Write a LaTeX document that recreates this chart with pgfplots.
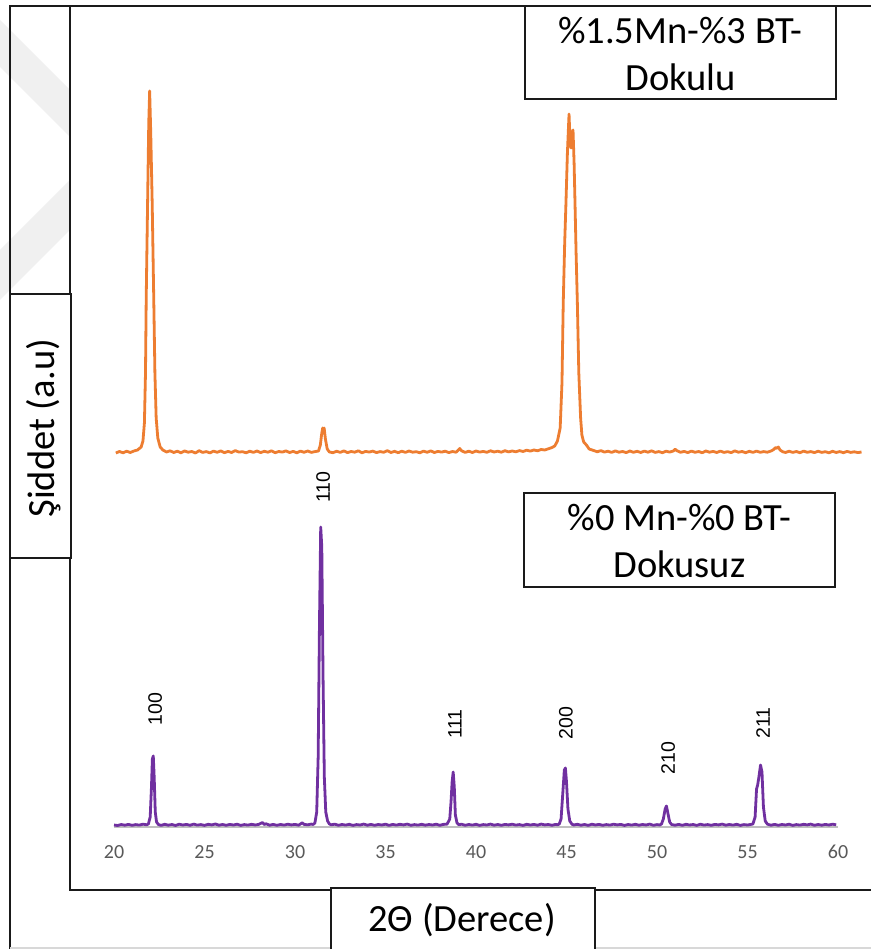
\documentclass[border=0pt]{standalone}
\usepackage{pgfplots}
\pgfplotsset{compat=1.18}
\usepackage{fontspec}
\setmainfont{Carlito}
\newfontfamily\arialf{Liberation Sans}
\definecolor{xorange}{HTML}{ED7D31}
\definecolor{xpurple}{HTML}{7030A0}
\definecolor{tickgray}{HTML}{595959}
\definecolor{axgray}{HTML}{BFBFBF}
\definecolor{frame}{HTML}{1A1A1A}
\definecolor{wm}{HTML}{F0F0F0}
\begin{document}
\begin{tikzpicture}
\begin{scope}[x=0.5pt,y=0.5pt]
\fill[white] (0,0) rectangle (871,949);
\useasboundingbox (0,0) rectangle (871,949);
% watermark remnants
\begin{scope}
\clip (0,0) rectangle (70,949);
\fill[wm] (0,929) -- (80,849) -- (80,802) -- (0,882) -- cycle;
\fill[wm] (0,699) -- (80,779) -- (80,729) -- (0,649) -- cycle;
\end{scope}
% frames
\fill[white] (70,59) rectangle (875,943);
\draw[frame, line width=1pt] (10,-5) -- (10,943) -- (875,943);
\draw[frame, line width=1pt] (70,943) -- (70,59) -- (875,59);
\draw[axgray!60, line width=1pt] (10,1) -- (875,1);
% y label box
\draw[frame, line width=1pt, fill=white] (10,391) rectangle (71,655);
\node[rotate=90, inner sep=0pt, font=\fontsize{19.25}{23.5}\selectfont] at (44,521) {Şiddet (a.u)};
% x label box
\draw[frame, line width=1pt, fill=white] (331,-5) rectangle (595,61);
\node[inner sep=0pt, font=\fontsize{19.25}{23.5}\selectfont] at (462,29) {2Θ (Derece)};
% legend boxes
\draw[frame, line width=1pt, fill=white] (525,850) rectangle (836,943);
\node[align=center, inner sep=0pt, font=\fontsize{19.25}{23.5}\selectfont] at (680.5,895) {\%1.5Mn-\%3 BT-\\Dokulu};
\draw[frame, line width=1pt, fill=white] (524,362) rectangle (835,456);
\node[align=center, inner sep=0pt, font=\fontsize{19.25}{23.5}\selectfont] at (679.5,408) {\%0 Mn-\%0 BT-\\Dokusuz};
\end{scope}
\begin{axis}[
  at={(57pt,61pt)}, anchor=south west,
  scale only axis, width=362pt, height=410.5pt,
  xmin=20, xmax=60, ymin=0, ymax=821,
  clip=false,
  axis y line=none,
  axis x line*=bottom,
  x axis line style={draw=axgray, line width=1pt},
  xtick={20,25,...,60},
  major tick length=0pt,
  xticklabel style={anchor=center, yshift=-12.5pt, text=tickgray, font=\fontsize{10}{12}\selectfont},
  /pgf/number format/assume math mode=true,
]
\addplot[xorange, line width=1.4pt, line join=round, mark=none] coordinates {
(20.1,374)(20.3,375.5)(20.5,374.2)(20.7,375.8)(20.9,374.5)(21.1,376)(21.3,377)(21.5,380)(21.6,386)(21.68,404)(21.74,454)(21.78,529)(21.86,629)(21.92,704)(21.97,736)(22.03,694)(22.11,624)(22.2,524)(22.26,454)(22.33,409)(22.42,389)(22.55,380)(22.7,377)
(22.9,375.0)(23.1,376.2)(23.3,374.5)(23.5,375.8)(23.7,374.2)(23.9,376.0)(24.1,374.8)(24.3,375.5)(24.5,374.0)(24.7,376.3)(24.9,374.6)(25.1,375.4)(25.3,374.1)(25.5,375.9)(25.7,374.7)(25.9,376.1)(26.1,374.3)(26.3,375.6)(26.5,374.5)(26.7,376.4)(26.9,374.9)(27.1,375.3)(27.3,374.2)(27.5,375.8)(27.7,374.6)(27.9,376.0)(28.1,374.4)(28.3,375.7)(28.5,374.8)(28.7,376.2)(28.9,374.3)(29.1,375.5)(29.3,374.9)(29.5,376.1)(29.7,374.5)(29.9,375.6)(30.1,374.2)(30.3,375.9)(30.5,374.7)(30.7,376.0)(30.9,374.6)(31.1,375.4)
(31.3,376)(31.4,382)(31.48,394)(31.53,399)(31.57,396)(31.61,399)(31.68,388)(31.78,378)(31.9,375)
(32.1,374.3)(32.3,375.8)(32.5,374.6)(32.7,376.1)(32.9,374.4)(33.1,375.5)(33.3,374.8)(33.5,376.2)(33.7,374.2)(33.9,375.6)(34.1,374.9)(34.3,375.9)(34.5,374.4)(34.7,375.4)(34.9,374.7)(35.1,376.3)(35.3,374.5)(35.5,375.7)(35.7,374.3)(35.9,375.8)(36.1,374.6)(36.3,376.0)(36.5,374.8)(36.7,375.3)(36.9,374.2)(37.1,375.9)(37.3,374.7)(37.5,376.1)(37.7,374.5)(37.9,375.6)(38.1,374.9)(38.3,375.8)(38.5,374.4)(38.7,375.5)(38.9,374.8)(39.0,376.5)(39.1,378.5)(39.2,376.2)(39.4,374.6)(39.6,375.8)(39.8,374.5)(40.0,376.0)(40.2,374.9)(40.4,375.6)(40.6,374.7)(40.8,376.2)(41.0,375.0)(41.2,375.8)(41.4,374.8)(41.6,376.3)(41.8,375.1)(42.0,376.0)(42.2,375.2)(42.4,376.4)(42.6,375.5)(42.8,376.8)(43.0,375.9)(43.2,377.0)(43.4,376.2)(43.6,377.5)(43.8,377.0)(44.0,378.2)(44.2,379.5)(44.35,381)(44.5,386)
(44.65,399)(44.75,444)(44.82,524)(44.9,584)(44.97,624)(45.05,674)(45.14,713)(45.2,684)(45.25,679)(45.3,692)(45.36,697)(45.42,664)(45.47,624)(45.53,574)(45.6,524)(45.68,454)(45.78,409)(45.85,392)(45.95,385)(46.1,382)(46.25,378)
(46.5,376.5)(46.7,375.2)(46.9,376.4)(47.1,374.9)(47.3,375.8)(47.5,374.6)(47.7,376.1)(47.9,374.8)(48.1,375.5)(48.3,374.4)(48.5,376.0)(48.7,374.7)(48.9,375.7)(49.1,374.5)(49.3,375.9)(49.5,374.8)(49.7,376.2)(49.9,374.6)(50.1,375.4)(50.3,374.3)(50.5,375.8)(50.7,374.9)(50.9,376.0)(51.0,377.8)(51.1,376.3)(51.3,374.7)(51.5,375.6)(51.7,374.4)(51.9,375.9)(52.1,374.7)(52.3,375.5)(52.5,374.3)(52.7,376.0)(52.9,374.8)(53.1,375.6)(53.3,374.5)(53.5,375.9)(53.7,374.6)(53.9,375.3)(54.1,374.4)(54.3,376.1)(54.5,374.8)(54.7,375.5)(54.9,374.3)(55.1,375.7)(55.3,374.6)(55.5,375.9)(55.7,374.7)(55.9,375.4)(56.1,374.8)(56.3,376.0)(56.45,377.5)(56.55,379.5)(56.62,378.6)(56.7,380)(56.8,377)(56.95,375.2)(57.1,374.5)(57.3,375.8)(57.5,374.6)(57.7,375.5)(57.9,374.3)(58.1,375.9)(58.3,374.7)(58.5,375.4)(58.7,374.4)(58.9,375.8)(59.1,374.6)(59.3,375.3)(59.5,374.2)(59.7,375.7)(59.9,374.5)(60.1,375.4)(60.3,374.3)(60.5,375.6)(60.7,374.6)(60.9,375.2)(61.1,374.4)(61.3,375.0)
};
\addplot[xpurple, line width=1.4pt, line join=round, mark=none] coordinates {
(20.0,2)(20.2,1.5)(20.4,2.5)(20.6,1.8)(20.8,2.6)(21.0,1.7)(21.2,2.4)(21.4,1.9)(21.6,2.8)(21.8,2.2)(21.9,3)(22.0,10)(22.07,40)(22.12,68)(22.17,71)(22.22,50)(22.28,15)(22.35,5)(22.45,2.5)(22.6,1.6)(22.8,2.7)(23.0,1.8)(23.2,2.5)(23.4,1.5)(23.6,2.8)(23.8,2.0)(24.0,2.6)(24.2,1.7)(24.4,2.9)(24.6,1.9)(24.8,2.4)(25.0,1.6)(25.2,2.7)(25.4,2.1)(25.6,3.0)(25.8,1.8)(26.0,2.5)(26.2,1.7)(26.4,2.6)(26.6,2.0)(26.8,2.8)(27.0,1.6)(27.2,2.4)(27.4,1.9)(27.6,2.7)(27.8,2.0)(28.0,2.6)(28.2,4.5)(28.3,2.5)(28.4,3.2)(28.6,1.8)(28.8,2.6)(29.0,1.7)(29.2,2.5)(29.4,1.9)(29.6,2.8)(29.8,2.1)(30.0,2.6)(30.2,1.8)(30.4,4.2)(30.5,2.6)(30.7,2.2)(30.9,2.9)(31.0,2.5)
(31.1,4)(31.2,15)(31.28,70)(31.35,200)(31.42,300)(31.48,280)(31.55,150)(31.62,50)(31.7,15)(31.8,6)(31.9,3)
(32.0,2.2)(32.2,2.8)(32.4,1.7)(32.6,2.5)(32.8,1.9)(33.0,2.7)(33.2,1.6)(33.4,2.4)(33.6,2.0)(33.8,2.9)(34.0,1.8)(34.2,2.6)(34.4,1.7)(34.6,2.5)(34.8,2.0)(35.0,2.8)(35.2,1.6)(35.4,2.6)(35.6,1.9)(35.8,2.7)(36.0,2.1)(36.2,2.9)(36.4,1.7)(36.6,2.4)(36.8,1.9)(37.0,2.7)(37.2,1.8)(37.4,2.5)(37.6,2.0)(37.8,2.8)(38.0,1.7)(38.2,2.6)(38.4,2.8)
(38.55,8)(38.62,25)(38.68,45)(38.74,55)(38.8,40)(38.86,12)(38.95,4)(39.05,2.3)
(39.2,2.8)(39.4,1.7)(39.6,2.5)(39.8,1.9)(40.0,2.7)(40.2,1.6)(40.4,2.4)(40.6,2.0)(40.8,2.9)(41.0,1.8)(41.2,2.5)(41.4,1.7)(41.6,2.6)(41.8,2.1)(42.0,2.8)(42.2,1.9)(42.4,2.4)(42.6,1.6)(42.8,2.7)(43.0,2.0)(43.2,2.6)(43.4,1.8)(43.6,2.9)(43.8,2.1)(44.0,2.5)(44.2,1.7)(44.4,2.6)(44.5,2.2)
(44.6,3)(44.7,8)(44.8,35)(44.88,57)(44.94,59)(45.0,45)(45.08,18)(45.18,6)(45.3,2.8)
(45.4,2.0)(45.6,2.7)(45.8,1.8)(46.0,2.5)(46.2,1.6)(46.4,2.8)(46.6,2.0)(46.8,2.6)(47.0,1.7)(47.2,2.4)(47.4,1.9)(47.6,2.8)(47.8,2.1)(48.0,2.6)(48.2,1.6)(48.4,2.5)(48.6,1.9)(48.8,2.7)(49.0,1.8)(49.2,2.5)(49.4,2.0)(49.6,2.9)(49.8,1.7)(50.0,2.4)(50.15,2.0)
(50.25,3)(50.35,8)(50.45,18)(50.52,21)(50.6,14)(50.7,5)(50.8,2.5)
(51.0,1.8)(51.2,2.6)(51.4,1.7)(51.6,2.7)(51.8,2.0)(52.0,2.5)(52.2,1.6)(52.4,2.8)(52.6,1.9)(52.8,2.4)(53.0,1.7)(53.2,2.6)(53.4,2.1)(53.6,2.9)(53.8,1.8)(54.0,2.5)(54.2,1.9)(54.4,2.7)(54.6,1.6)(54.8,2.4)(55.0,2.0)(55.2,2.6)
(55.3,3)(55.42,10)(55.5,38)(55.56,42)(55.63,50)(55.72,62)(55.8,55)(55.88,20)(55.98,6)(56.1,2.8)
(56.3,1.8)(56.5,2.6)(56.7,1.7)(56.9,2.5)(57.1,2.0)(57.3,2.8)(57.5,1.6)(57.7,2.4)(57.9,1.9)(58.1,2.7)(58.3,2.1)(58.5,2.9)(58.7,1.7)(58.9,2.5)(59.1,1.8)(59.3,2.6)(59.5,2.0)(59.7,2.8)(59.9,2.2)
};
\node[rotate=90, inner sep=0pt] at (axis cs:22.27,118) {\arialf\fontsize{9.75}{11}\selectfont 100};
\node[rotate=90, inner sep=0pt] at (axis cs:31.55,340) {\arialf\fontsize{9.75}{11}\selectfont 110};
\node[rotate=90, inner sep=0pt] at (axis cs:38.84,103) {\arialf\fontsize{9.75}{11}\selectfont 111};
\node[rotate=90, inner sep=0pt] at (axis cs:44.97,104) {\arialf\fontsize{9.75}{11}\selectfont 200};
\node[rotate=90, inner sep=0pt] at (axis cs:50.61,69) {\arialf\fontsize{9.75}{11}\selectfont 210};
\node[rotate=90, inner sep=0pt] at (axis cs:55.86,104) {\arialf\fontsize{9.75}{11}\selectfont 211};
\end{axis}
\end{tikzpicture}
\end{document}
